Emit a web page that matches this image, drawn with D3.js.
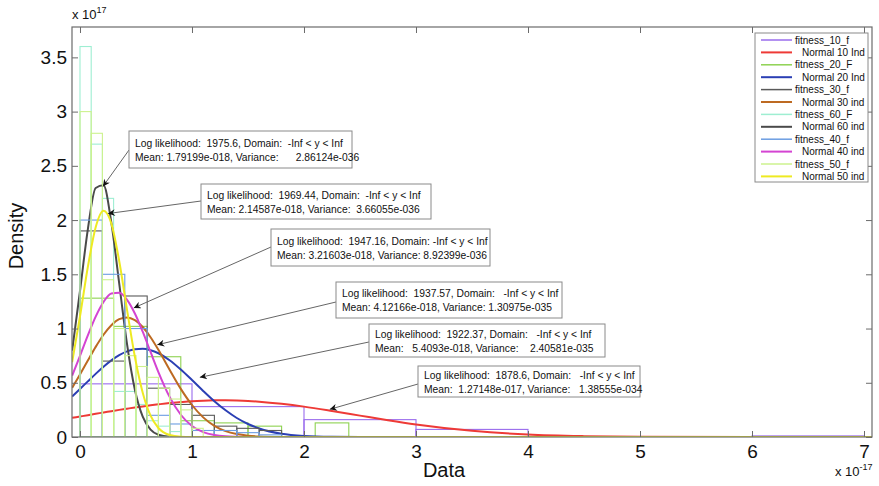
<!DOCTYPE html>
<html>
<head>
<meta charset="utf-8">
<script src="https://cdn.jsdelivr.net/npm/d3@7"></script>
<style>
  body { margin: 0; background: #fff; }
  text { font-family: "Liberation Sans", Arial, sans-serif; }
</style>
</head>
<body>
<svg id="chart" width="879" height="486"></svg>
<script>

// x values (units of 1e-17) where the fitted densities were sampled
const curveX = [-0.07, 0, 0.07, 0.14, 0.21, 0.28, 0.35, 0.42, 0.49, 0.56, 0.63, 0.7,
                0.8, 0.9, 1.0, 1.1, 1.2, 1.3, 1.4, 1.5, 1.6, 1.8, 2.0, 2.25, 2.5, 2.75,
                3.0, 3.5, 4.0, 4.5, 5.0, 6.0, 7.07];

// fitted normal densities (units of 1e17)
const normal10 = [0.177, 0.189, 0.201, 0.214, 0.226, 0.238, 0.250, 0.261, 0.272, 0.282, 0.292, 0.301,
                  0.313, 0.322, 0.330, 0.335, 0.338, 0.339, 0.337, 0.333, 0.326, 0.306, 0.280, 0.240, 0.197, 0.154,
                  0.115, 0.057, 0.023, 0.008, 0.002, 0.0001, 0];
const normal20 = [0.374, 0.443, 0.513, 0.582, 0.648, 0.706, 0.754, 0.789, 0.809, 0.813, 0.800, 0.772,
                  0.708, 0.622, 0.525, 0.425, 0.330, 0.246, 0.175, 0.120, 0.079, 0.030, 0.010, 0.002, 0.0003, 0,
                  0, 0, 0, 0, 0, 0, 0];
const normal30 = [0.454, 0.576, 0.705, 0.831, 0.943, 1.031, 1.086, 1.102, 1.077, 1.014, 0.920, 0.804,
                  0.621, 0.444, 0.295, 0.181, 0.103, 0.054, 0.027, 0.012, 0.005, 0.0007, 0, 0, 0, 0,
                  0, 0, 0, 0, 0, 0, 0];
const normal60 = [0.797, 1.346, 1.915, 2.296, 2.320, 1.975, 1.417, 0.856, 0.436, 0.187, 0.068, 0.021,
                  0.003, 0.0003, 0, 0, 0, 0, 0, 0, 0, 0, 0, 0, 0, 0,
                  0, 0, 0, 0, 0, 0, 0];
const normal40 = [0.566, 0.748, 0.937, 1.110, 1.245, 1.323, 1.329, 1.265, 1.139, 0.971, 0.784, 0.599,
                  0.370, 0.205, 0.101, 0.045, 0.018, 0.006, 0.002, 0.0005, 0, 0, 0, 0, 0, 0,
                  0, 0, 0, 0, 0, 0, 0];
const normal50 = [0.690, 1.112, 1.567, 1.933, 2.085, 1.967, 1.623, 1.172, 0.740, 0.409, 0.197, 0.083,
                  0.019, 0.003, 0.0005, 0, 0, 0, 0, 0, 0, 0, 0, 0, 0, 0,
                  0, 0, 0, 0, 0, 0, 0];

// histogram bin left edges and densities
const fit10Bins = [0, 1, 2, 3, 4, 5, 6];
const fit10Dens = [0.49, 0.28, 0.16, 0.07, 0, 0, 0.01];
const fit20Bins = [0, 0.3, 0.6, 0.9, 1.2, 1.5, 1.8, 2.1];
const fit20Dens = [1.28, 1.02, 0.74, 0.15, 0.13, 0.1, 0, 0.13];
const fit30Bins = [0, 0.2, 0.4, 0.6, 0.8, 1.0, 1.2, 1.4, 1.6];
const fit30Dens = [1.9, 0.7, 1.3, 0.45, 0.3, 0.2, 0.1, 0.08, 0.06];
const fit60Bins = [0, 0.1, 0.2, 0.3, 0.4, 0.5, 0.6, 0.7, 0.8];
const fit60Dens = [3.6, 2.7, 2.2, 0.42, 0.42, 0.3, 0.15, 0.1, 0.05];
const fit40Bins = [0, 0.2, 0.4, 0.6, 0.8, 1.0, 1.2, 1.4, 1.6];
const fit40Dens = [2.0, 1.5, 1.0, 0.2, 0.12, 0.06, 0.06, 0.04, 0.02];
const fit50Bins = [0, 0.1, 0.2, 0.3, 0.4, 0.5, 0.6, 0.7, 0.8, 0.9, 1.0];
const fit50Dens = [3.0, 2.8, 1.45, 1.0, 0.75, 0.65, 0.55, 0.45, 0.35, 0.25, 0.08];

const legendLabels = ["fitness_10_f", "Normal 10 Ind", "fitness_20_F", "Normal 20 Ind",
                      "fitness_30_f", "Normal 30 ind", "fitness_60_F", "Normal 60 ind",
                      "fitness_40_f", "Normal 40 ind", "fitness_50_f", "Normal 50 ind"];

const xTicks = [0, 1, 2, 3, 4, 5, 6, 7];
const yTicks = [0, 0.5, 1, 1.5, 2, 2.5, 3, 3.5];

// fit annotations: text lines and the point each arrow marks
const annoLines = [
    ["Log likelihood:  1975.6, Domain:  -Inf < y < Inf", "Mean: 1.79199e-018, Variance:      2.86124e-036"],
    ["Log likelihood:  1969.44, Domain:  -Inf < y < Inf", "Mean: 2.14587e-018, Variance:  3.66055e-036"],
    ["Log likelihood:  1947.16, Domain: -Inf < y < Inf", "Mean: 3.21603e-018, Variance: 8.92399e-036"],
    ["Log likelihood:  1937.57, Domain:   -Inf < y < Inf", "Mean: 4.12166e-018, Variance: 1.30975e-035"],
    ["Log likelihood:  1922.37, Domain:   -Inf < y < Inf", "Mean:   5.4093e-018, Variance:    2.40581e-035"],
    ["Log likelihood:  1878.6, Domain:   -Inf < y < Inf", "Mean:  1.27148e-017, Variance:   1.38555e-034"]
];
const annoTipX = [0.205, 0.25, 0.48, 0.69, 1.07, 2.23];
const annoTipY = [2.31, 2.06, 1.19, 0.85, 0.55, 0.255];

const margin = {top: 27, right: 7, bottom: 49, left: 72},
      width = 879 - margin.left - margin.right,
      height = 486 - margin.top - margin.bottom;

const svg = d3.select("#chart");
const plot = svg.append("g").attr("transform", "translate(" + margin.left + "," + margin.top + ")");

const xScale = d3.scaleLinear().domain([-0.0714, 7.0714]).range([0, width]);
const yScale = d3.scaleLinear().domain([0, 3.78]).range([height, 0]);

plot.append("clipPath").attr("id", "clip")
    .append("rect").attr("width", width).attr("height", height);

const marks = plot.append("g").attr("clip-path", "url(#clip)");

const series = [
    {type: "hist", bins: fit10Bins, dens: fit10Dens, color: "#9a6ced"},
    {type: "line", ys: normal10, color: "#ee3a36"},
    {type: "hist", bins: fit20Bins, dens: fit20Dens, color: "#8ed252"},
    {type: "line", ys: normal20, color: "#2b3fb4"},
    {type: "hist", bins: fit30Bins, dens: fit30Dens, color: "#5a5a5a"},
    {type: "line", ys: normal30, color: "#bd6a22"},
    {type: "hist", bins: fit60Bins, dens: fit60Dens, color: "#9eeed2"},
    {type: "line", ys: normal60, color: "#4a4a4a"},
    {type: "hist", bins: fit40Bins, dens: fit40Dens, color: "#6c9de2"},
    {type: "line", ys: normal40, color: "#d444d2"},
    {type: "hist", bins: fit50Bins, dens: fit50Dens, color: "#cdf28e"},
    {type: "line", ys: normal50, color: "#eeea22"}
];

const line = d3.line()
    .x(function (d) { return xScale(d[0]); })
    .y(function (d) { return yScale(d[1]); })
    .curve(d3.curveMonotoneX);

series.forEach(function (s) {
    if (s.type === "hist") {
        let w = s.bins[1] - s.bins[0];
        marks.append("g").selectAll("rect")
            .data(s.bins.map(function (b, i) { return [b, s.dens[i]]; }))
            .enter().append("rect")
            .attr("x", function (d) { return xScale(d[0]); })
            .attr("y", function (d) { return yScale(d[1]); })
            .attr("width", function (d) { return xScale(d[0] + w) - xScale(d[0]); })
            .attr("height", function (d) { return yScale(0) - yScale(d[1]); })
            .style("fill", "none")
            .style("stroke", s.color)
            .style("stroke-width", 1.1);
    } else {
        marks.append("path")
            .datum(curveX.map(function (x, i) { return [x, s.ys[i]]; }))
            .style("fill", "none")
            .style("stroke", s.color)
            .style("stroke-width", 2)
            .attr("d", line);
    }
});

// axes: ticks point inward on all four sides
const axisColor = "#6b6b6b";
const bottomAxis = plot.append("g").attr("transform", "translate(0," + height + ")")
    .call(d3.axisBottom(xScale).tickValues(xTicks).tickSize(-6).tickPadding(8).tickFormat(d3.format("d")));
const topAxis = plot.append("g")
    .call(d3.axisTop(xScale).tickValues(xTicks).tickSize(-6).tickFormat(""));
const leftAxis = plot.append("g")
    .call(d3.axisLeft(yScale).tickValues(yTicks).tickSize(-6).tickPadding(5).tickFormat(d3.format("")));
const rightAxis = plot.append("g").attr("transform", "translate(" + width + ",0)")
    .call(d3.axisRight(yScale).tickValues(yTicks).tickSize(-6).tickFormat(""));

[bottomAxis, topAxis, leftAxis, rightAxis].forEach(function (a) {
    a.select(".domain").remove();
    a.selectAll(".tick line").style("stroke", axisColor);
    a.selectAll("text").style("font-size", "19px").style("fill", "#111")
        .style("font-family", "\"Liberation Sans\", Arial, sans-serif");
});

plot.append("rect")
    .attr("width", width).attr("height", height)
    .style("fill", "none").style("stroke", axisColor).style("stroke-width", 1.2);

// exponent labels
const expTop = svg.append("text").attr("x", 72).attr("y", 19).style("font-size", "13px").style("fill", "#111");
expTop.append("tspan").text("x 10");
expTop.append("tspan").attr("dy", -6).style("font-size", "9px").text("17");

const expBottom = svg.append("text").attr("x", 835).attr("y", 476).style("font-size", "13px").style("fill", "#111");
expBottom.append("tspan").text("x 10");
expBottom.append("tspan").attr("dy", -6).style("font-size", "9px").text("-17");

svg.append("text")
    .attr("x", 444).attr("y", 477)
    .attr("text-anchor", "middle")
    .style("font-size", "20px").style("fill", "#111")
    .text("Data");

svg.append("text")
    .attr("transform", "translate(23," + (margin.top + height / 2 + 4) + ") rotate(-90)")
    .attr("text-anchor", "middle")
    .style("font-size", "20px").style("fill", "#111")
    .text("Density");

// annotation boxes with arrows
const annoBoxes = [
    {x: 129, y: 131, w: 223, h: 37, ay: 150},
    {x: 201, y: 184, w: 230, h: 35, ay: 201},
    {x: 271, y: 229, w: 219, h: 37, ay: 247},
    {x: 336, y: 282, w: 226, h: 36, ay: 302},
    {x: 369, y: 324, w: 236, h: 33, ay: 342},
    {x: 418, y: 366, w: 222, h: 31, ay: 384}
];

svg.append("defs").append("marker")
    .attr("id", "arrowhead")
    .attr("viewBox", "0 0 10 10")
    .attr("refX", 10).attr("refY", 5)
    .attr("markerWidth", 9).attr("markerHeight", 7)
    .attr("markerUnits", "userSpaceOnUse")
    .attr("orient", "auto")
    .append("path").attr("d", "M0,0 L10,5 L0,10 L3,5 Z").style("fill", "#111");

annoBoxes.forEach(function (b, i) {
    svg.append("line")
        .attr("x1", b.x).attr("y1", b.ay)
        .attr("x2", margin.left + xScale(annoTipX[i]))
        .attr("y2", margin.top + yScale(annoTipY[i]))
        .style("stroke", "#666").style("stroke-width", 1)
        .attr("marker-end", "url(#arrowhead)");

    svg.append("rect")
        .attr("x", b.x).attr("y", b.y).attr("width", b.w).attr("height", b.h)
        .style("fill", "#fff").style("stroke", "#8a8a8a").style("stroke-width", 1);

    annoLines[i].forEach(function (t, j) {
        svg.append("text")
            .attr("x", b.x + 6)
            .attr("y", b.y + b.h / 2 - 3 + j * 14)
            .style("font-size", "10.3px").style("fill", "#111")
            .style("white-space", "pre")
            .text(t);
    });
});

// legend
const legend = svg.append("g");
legend.append("rect")
    .attr("x", 755).attr("y", 33).attr("width", 113).attr("height", 149)
    .style("fill", "#fff").style("stroke", "#8a8a8a").style("stroke-width", 1);

legendLabels.forEach(function (label, i) {
    let ly = 40 + i * 12.4;
    legend.append("line")
        .attr("x1", 761).attr("x2", 792).attr("y1", ly).attr("y2", ly)
        .style("stroke", series[i].color)
        .style("stroke-width", series[i].type === "line" ? 2 : 1.5);
    legend.append("text")
        .attr("x", series[i].type === "line" ? 802 : 795)
        .attr("y", ly + 3.5)
        .style("font-size", "10px").style("fill", "#111")
        .text(label);
});

</script>
</body>
</html>
